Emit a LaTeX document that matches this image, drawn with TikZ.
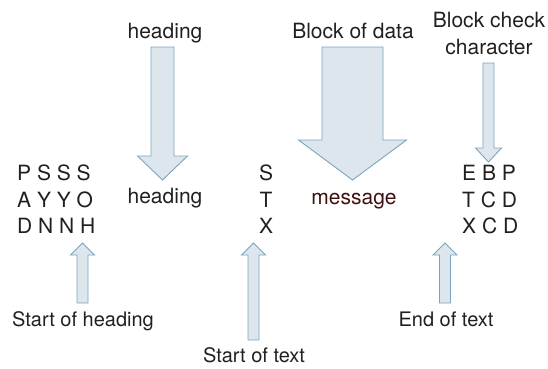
\documentclass[tikz,border=0pt]{standalone}
\usepackage{fontspec}
\setmainfont{TeX Gyre Heros}
\usetikzlibrary{calc}
\definecolor{ink}{HTML}{231F20}
\definecolor{msgred}{HTML}{3F1010}
\definecolor{arrfill}{HTML}{DDE6EC}
\definecolor{arrline}{HTML}{7AA5BD}

% hollow block arrow: tail, tip, half shaft, half head, head length
\newcommand{\fatarrow}[5]{%
  \coordinate (hb) at ($(#2)!#5!(#1)$);
  \draw[fat] ($(#1)+(-#3,0)$) -- ($(hb)+(-#3,0)$) -- ($(hb)+(-#4,0)$) -- (#2)
    -- ($(hb)+(#4,0)$) -- ($(hb)+(#3,0)$) -- ($(#1)+(#3,0)$) -- cycle;}

\begin{document}
\begin{tikzpicture}[
  x=1pt, y=-1pt, font=\fontsize{21}{26.5}\selectfont,
  lbl/.style={inner sep=0pt, text=ink, anchor=base},
  low/.style={lbl, font=\fontsize{20}{24}\selectfont},
  grid/.style={inner sep=0pt, text=ink, anchor=north west, align=left},
  fat/.style={draw=arrline, fill=arrfill, line width=0.9pt, line join=miter},
]
  \useasboundingbox (0,0) rectangle (548,368);

  % labels above
  \node[lbl] (hdtop) at (165,38) {heading};
  \node[lbl] (blk) at (353,38) {Block of data};
  \node[lbl, align=center, anchor=north] (bcc) at (489,12) {Block check\\character};

  % the frame
  \node[grid] (soh) at (17,165) {P S S S\\A Y Y O\\D N N H};
  \node[lbl] (hdbot) at (165,203) {heading};
  \node[grid, align=center, anchor=north] (stx) at (266,165) {S\\T\\X};
  \node[lbl, text=msgred] (msg) at (354,204) {message};
  \node[grid] (etx) at (462,165) {E B P\\T C D\\X C D};

  % labels below
  \node[low] (sohlbl) at (83,326) {Start of heading};
  \node[low] (stxlbl) at (254,362.5) {Start of text};
  \node[low] (etxlbl) at (446,326) {End of text};

  % arrows
  \coordinate (hdtail) at (162.5,47);  \coordinate (hdtip) at (162.5,180);
  \coordinate (blktail) at (352.5,47); \coordinate (blktip) at (352.5,180);
  \coordinate (bcctail) at (488.5,63); \coordinate (bcctip) at (488.5,162);
  \coordinate (sohtail) at (82.5,303); \coordinate (sohtip) at (82.5,243);
  \coordinate (stxtail) at (253.5,340); \coordinate (stxtip) at (253.5,243);
  \coordinate (etxtail) at (445,303);  \coordinate (etxtip) at (445,243);
  \fatarrow{hdtail}{hdtip}{11.5}{25}{24pt}
  \fatarrow{blktail}{blktip}{30.5}{54}{40pt}
  \fatarrow{bcctail}{bcctip}{5.5}{13}{14pt}
  \fatarrow{sohtail}{sohtip}{5.5}{12}{12pt}
  \fatarrow{stxtail}{stxtip}{5.5}{12}{12pt}
  \fatarrow{etxtail}{etxtip}{5.5}{12}{12pt}
\end{tikzpicture}
\end{document}
